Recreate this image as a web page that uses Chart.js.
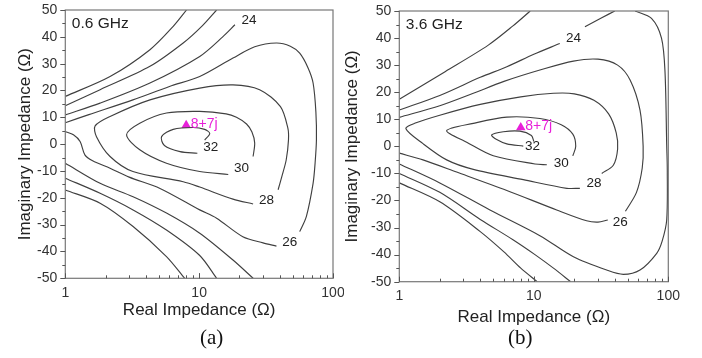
<!DOCTYPE html>
<html lang="en">
<head>
<meta charset="utf-8" />
<title>Impedance contours</title>
<style>
body { margin: 0; background: #fff; }
#wrap { position: relative; width: 702px; height: 358px; overflow: hidden; }
.box { position: absolute; top: 0; height: 330px; }
.cap { position: absolute; top: 325px; font-family: "Liberation Serif", "Times New Roman", serif; font-size: 21px; color: #111; }
</style>
</head>
<body>
<div id="wrap">
  <div class="box" style="left:0;width:344px"><canvas id="chartA"></canvas></div>
  <div class="box" style="left:335px;width:345px"><canvas id="chartB"></canvas></div>
  <div class="cap" style="left:200px">(a)</div>
  <div class="cap" style="left:508px">(b)</div>
</div>
<script src="https://cdn.jsdelivr.net/npm/chart.js"></script>
<script>
// contour lines, [real, imag]
// (a) 0.6 GHz
const a20top = [[1,17.8],[2.16,25.2],[4.29,35.2],[6.4,43.9],[8.05,50]];
const a22top = [[1,14.3],[1.82,20.3],[4.29,29],[7.6,37.7],[10.5,44],[13.5,50]];
const a24top = [[1,10.9],[1.82,15.3],[4.29,22.8],[10.1,32.7],[15,40],[18.5,44.5]];
const a26up  = [[1,8],[1.5,11],[3.2,16.5],[6,21.5],[10.1,25.2],[17.9,32.1],[26,36.3],[37.8,37.7],[48,36.5],[56.4,33.9],[65,28.5],[71,22.8],[74.5,12],[75.2,1.6],[73.5,-7],[71,-14.6],[63.2,-27],[56.4,-32.6]];
const a26low = [[37.8,-38],[30,-36.8],[21.2,-34.5],[13.5,-27.6],[10.1,-24.5],[5.1,-16.5],[3,-12.3],[2.16,-9],[1.6,-6.2],[1.4,-4],[1.29,1],[1.15,3.5],[1,4.7]];
const a28    = [[38.9,-17],[41.5,-12],[44.7,-5.9],[46.5,1.6],[46,6],[40.5,14],[28.3,20.3],[17.9,22.1],[10.1,20.9],[4.29,16.5],[2.16,10.3],[1.67,6.8],[1.71,2.8],[2.16,-4.6],[3.2,-10.2],[7.6,-14],[10.1,-16],[17.9,-20.5],[25.3,-22.3]];
const a30    = [[25.3,-4.6],[26,0.4],[24.8,4.5],[22.6,7.5],[19,10],[15.9,11.3],[10.1,12.2],[5.7,11.6],[3.6,7.8],[2.87,3.5],[3.6,-2.1],[5.7,-7.1],[10.1,-10.2],[16.5,-11.3]];
const a32    = [[11,1.5],[12,4],[11,5.5],[9,6.2],[6.4,5.5],[5.24,2.8],[5.5,-0.5],[7.2,-2.8],[9.7,-3.4]];
const a24bot = [[1,-7.1],[1.82,-14.6],[3.21,-19.6],[5.7,-25.7],[10.1,-33.2],[17.9,-43.2],[25.3,-50]];
const a22bot = [[1,-12.7],[1.82,-18.3],[3.21,-24.5],[5.7,-32],[10.1,-41.5],[13.5,-50]];
const a20bot = [[1,-17.1],[1.82,-22],[3.21,-30.7],[5.7,-41.9],[7.8,-50]];
const aLabels = [['24',23.6,46.1],['26',47.5,-36.5],['28',31.8,-21],['30',20.7,-8.9],['32',12.2,-1]];

// (b) 3.6 GHz
const b22top = [[1,17.4],[2.19,27.6],[4.59,37.4],[7,44.5],[9.4,50]];
const b24top = [[1,13.4],[2,18.8],[4,25.5],[6.3,29.4],[10,34],[15.6,38]];
const b24end = [[24,44.2],[32,47.5],[40,50]];
const b24U   = [[56.6,50],[75,47.3],[89,40],[94.5,27.6],[97.3,0.5],[98.3,-8.8],[97.3,-27.2],[90,-35],[82,-39.5],[61.6,-45.7],[46.3,-47.3],[34.8,-45.7],[19.7,-40.8],[11.1,-33],[4.72,-23.5],[2,-13.5],[1,-6.5]];
const b26up  = [[1,10.7],[2,15],[3.55,19.6],[6,24],[11.1,28.2],[19.7,31.5],[30,32.2],[42,30],[52,24.5],[61.6,13.4],[65,0],[64,-8],[58,-17],[48,-24]];
const b26low = [[35.5,-27.2],[30,-28],[24.7,-27.5],[14.8,-23.5],[6.3,-16.3],[2.67,-9.5],[1.5,-5],[1,-2.5]];
const b28    = [[32,-10],[39,-7],[42,-1],[41,5],[36,12],[28,17],[20,19.4],[14,19.6],[8,18.3],[4,15.5],[2,11.5],[1.3,8.5],[1.12,6.5],[1.5,1],[2.25,-5],[3.55,-8.5],[8.35,-12.3],[17.6,-15.5],[22,-15.5]];
const b30    = [[19.5,-3.5],[20.5,0],[19.5,4.5],[16,8],[11.1,10.3],[6.3,10.8],[3.55,8.5],[2.25,5.8],[3.17,1.5],[5,-3.5],[10.2,-6.5],[12.5,-6.8]];
const b32    = [[10,1.8],[9.6,4],[7.9,5.6],[5.93,5.4],[4.86,4.2],[5.3,2.5],[6.3,0.9],[8.35,0.1]];
const b22bot = [[1,-10],[2,-17],[4,-27],[7,-34.5],[10.2,-40],[14,-45],[18.8,-50]];
const b20bot = [[1,-13.5],[2,-20.5],[4,-31.5],[6,-39],[8,-45],[10.6,-50]];
const bLabels = [['24',19.7,40],['26',44,-28],['28',28,-13.6],['30',16,-6.4],['32',9.8,0]];

const optimum = [8, 7];
const optimumText = '8+7j';
const yTicks = [-50,-40,-30,-20,-10,0,10,20,30,40,50];
const xTickLabels = [1, 10, 100];

const FONT = '"Liberation Sans", Arial, sans-serif';
const MAGENTA = '#e81fd9';

const toPts = arr => arr.map(p => ({x: p[0], y: p[1]}));

function lineSet(arr) {
  return {
    data: toPts(arr),
    showLine: true,
    pointRadius: 0,
    borderColor: '#404040',
    borderWidth: 1.15,
    tension: 0.3,
    fill: false
  };
}

// frame, ticks, contour numbers and the marker text
const decor = {
  id: 'decor',
  afterDraw(chart) {
    const {ctx, chartArea: {left, right, top, bottom}, scales: {x, y}} = chart;
    const o = chart.options.plugins.decor;
    ctx.save();
    ctx.strokeStyle = '#777';
    ctx.lineWidth = 1.2;
    ctx.strokeRect(left, top, right - left, bottom - top);
    ctx.lineWidth = 1;
    ctx.strokeStyle = '#555';
    ctx.beginPath();
    for (let v = -50; v <= 50; v += 5) {
      const py = Math.round(y.getPixelForValue(v)) + 0.5;
      const len = v % 10 === 0 ? 5 : 3;
      ctx.moveTo(left - len, py); ctx.lineTo(left, py);
    }
    [1, 10].forEach(d => {
      for (let k = 1; k <= 10; k++) {
        const px = Math.round(x.getPixelForValue(d * k)) + 0.5;
        const len = (k === 1 || k === 10) ? 5 : 3;
        ctx.moveTo(px, bottom); ctx.lineTo(px, bottom - len);
      }
    });
    ctx.stroke();

    ctx.fillStyle = '#222';
    ctx.font = '13.5px ' + FONT;
    ctx.textAlign = 'center';
    ctx.textBaseline = 'middle';
    o.labels.forEach(([t, vx, vy]) => {
      ctx.fillText(t, x.getPixelForValue(vx), y.getPixelForValue(vy));
    });

    ctx.fillStyle = MAGENTA;
    ctx.font = '14px ' + FONT;
    ctx.textAlign = 'left';
    ctx.fillText(optimumText, x.getPixelForValue(optimum[0]) + 4.5, y.getPixelForValue(optimum[1]) - 1);

    ctx.fillStyle = '#222';
    ctx.font = '15.5px ' + FONT;
    ctx.fillText(o.freq, left + 6.5, top + 13.5);
    ctx.restore();
  }
};

function makeChart(id, lines, labels, freq, geo) {
  const datasets = lines.map(lineSet);
  datasets.push({
    data: [{x: optimum[0], y: optimum[1]}],
    pointStyle: 'triangle',
    pointRadius: 5.5,
    backgroundColor: MAGENTA,
    borderColor: MAGENTA,
    borderWidth: 0,
    showLine: false
  });
  return new Chart(document.getElementById(id), {
    type: 'scatter',
    data: {datasets: datasets},
    options: {
      responsive: true,
      maintainAspectRatio: false,
      animation: false,
      events: [],
      layout: {padding: {top: geo.top, right: geo.right, left: 0, bottom: 0}},
      scales: {
        x: {
          type: 'logarithmic',
          min: 1, max: 100,
          grid: {display: false, drawTicks: false},
          border: {display: false},
          afterFit: s => { s.height = geo.xh; s.paddingLeft = 0; s.paddingRight = 0; },
          ticks: {
            autoSkip: false, maxRotation: 0, padding: 6.5,
            color: '#333', font: {family: FONT, size: 14},
            callback: v => xTickLabels.includes(v) ? String(v) : ''
          },
          title: {display: true, text: 'Real Impedance (\u03A9)', color: '#222',
                  font: {family: FONT, size: 17}, padding: {top: 0, bottom: geo.xtp}}
        },
        y: {
          min: -50, max: 50,
          grid: {display: false, drawTicks: false},
          border: {display: false},
          afterFit: s => { s.width = geo.yw; s.paddingTop = 0; s.paddingBottom = 0; },
          afterBuildTicks: s => { s.ticks = yTicks.map(v => ({value: v})); },
          ticks: {padding: 8, color: '#333', font: {family: FONT, size: 14}},
          title: {display: true, text: 'Imaginary Impedance (\u03A9)', color: '#222',
                  font: {family: FONT, size: 17}, padding: {top: geo.ytp, bottom: 0}}
        }
      },
      plugins: {
        legend: {display: false},
        tooltip: {enabled: false},
        decor: {labels: labels, freq: freq}
      }
    },
    plugins: [decor]
  });
}

makeChart('chartA',
  [a20top, a22top, a24top, a26up, a26low, a28, a30, a32, a24bot, a22bot, a20bot],
  aLabels, '0.6 GHz',
  {top: 10, right: 11, yw: 65.3, xh: 51.7, xtp: 9.3, ytp: 14.8});

makeChart('chartB',
  [b22top, b24top, b24end, b24U, b26up, b26low, b28, b30, b32, b22bot, b20bot],
  bLabels, '3.6 GHz',
  {top: 11, right: 11.7, yw: 64.3, xh: 48.3, xtp: 2.3, ytp: 6.8});
</script>
</body>
</html>
